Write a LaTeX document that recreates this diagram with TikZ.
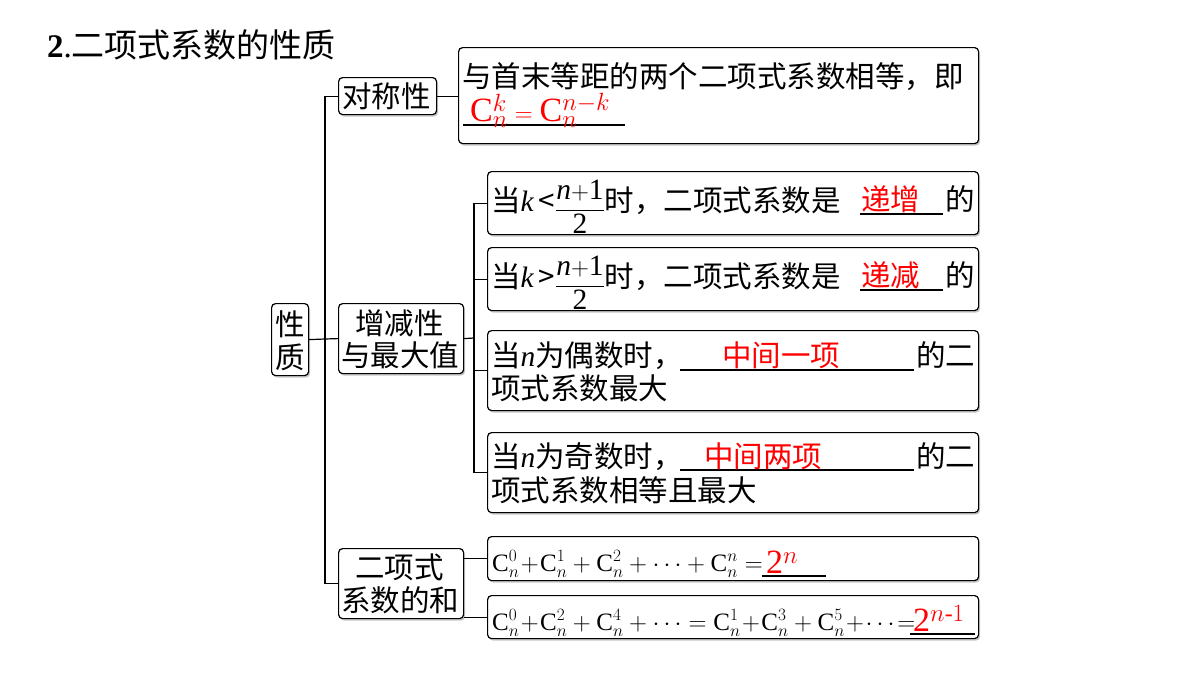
\documentclass[tikz,border=0pt]{standalone}
\usepackage{amsmath}
\usepackage{fontspec}
\setmainfont{Liberation Serif}
\newfontfamily\cjk{Noto Sans CJK SC}
\usetikzlibrary{shadows}
\tikzset{
 box/.style={draw, rounded corners=4pt, line width=1.2pt, fill=white, anchor=north west, inner sep=0,
   drop shadow={shadow xshift=1.5pt, shadow yshift=-2pt, opacity=0.45}},
 t/.style={font=\fontsize{29.5}{32}\selectfont\cjk, anchor=base west, inner sep=0},
 f/.style={font=\fontsize{25}{30}\selectfont, anchor=base west, inner sep=0},
 ln/.style={line width=1.2pt},
 ul/.style={line width=1.1pt},
}
\newcommand{\rc}{\color{red}}
\newcommand{\mi}[1]{{\rmfamily\itshape #1}}
\newcommand{\fr}{\raisebox{-0.35ex}{$\dfrac{\text{\rmfamily\itshape n}\mathord{+}\text{\rmfamily 1}}{\text{\rmfamily 2}}$}}
\begin{document}
\begin{tikzpicture}[x=1pt,y=-1pt]
\useasboundingbox (0,0) rectangle (1200,675);
% title
\node[anchor=base west, inner sep=0, font=\fontsize{33}{36}\selectfont] (title) at (47,57) {\textbf{2}.\cjk 二项式系数的性质};
% boxes
\node[box, minimum width=37pt, minimum height=72pt] (P) at (271,303) {};
\node[box, minimum width=98pt, minimum height=37pt] (S) at (338,77) {};
\node[box, minimum width=125pt, minimum height=70pt] (Z) at (338,303) {};
\node[box, minimum width=125pt, minimum height=70pt] (H) at (338,548) {};
\node[box, minimum width=520pt, minimum height=96pt] (A) at (458,47) {};
\node[box, minimum width=491pt, minimum height=63pt] (B1) at (487,171) {};
\node[box, minimum width=491pt, minimum height=63pt] (B2) at (487,247) {};
\node[box, minimum width=491pt, minimum height=80pt] (B3) at (487,330) {};
\node[box, minimum width=491pt, minimum height=80pt] (B4) at (487,432) {};
\node[box, minimum width=491pt, minimum height=44pt] (C1) at (487,536) {};
\node[box, minimum width=491pt, minimum height=43pt] (C2) at (487,595) {};
% connectors
\coordinate (T1) at (325,339);
\coordinate (T2) at (474,338);
\draw[ln] (P.east) -- (T1);
\draw[ln] (S.west) -| (T1) |- (H.west);
\draw[ln] (T1) -- (Z.west);
\draw[ln] (S.east) -- (A.west |- S.east);
\draw[ln] (Z.east) -- (T2);
\draw[ln] (B1.west) -| (T2) |- (B4.west);
\draw[ln] (T2) |- (B2.west);
\draw[ln] (T2) |- (B3.west);
\draw[ln] (H.east |- C1.west) -- (C1.west);
\draw[ln] (H.east |- C2.west) -- (C2.west);
% box labels
\node[t] (ps1) at (275,335) {性};
\node[t] (ps2) at (275,368) {质};
\node[t] (sl) at (342,107) {对称性};
\node[t] (zl1) at (355,334) {增减性};
\node[t] (zl2) at (341,366) {与最大值};
\node[t] (hl1) at (355,578) {二项式};
\node[t] (hl2) at (341,611) {系数的和};
% A
\node[t] (a1) at (462,87) {与首末等距的两个二项式系数相等，即};
\draw[ul] (463,125) -- (625,125);
\node[f, font=\fontsize{34}{36}\selectfont] (a2) at (470,121) {\rc$\mathrm{C}_n^k=\mathrm{C}_n^{n-k}$};
% B1,B2
\node[t] (b1) at (491,211) {当\mi{k}\,<\fr 时，二项式系数是};
\draw[ul] (860,214) -- (943,214);
\node[t] (b1r) at (861,210) {\rc 递增};
\node[t] (b1e) at (945,210) {的};
\node[t] (b2) at (491,287) {当\mi{k}\,>\fr 时，二项式系数是};
\draw[ul] (860,290) -- (943,290);
\node[t] (b2r) at (861,286) {\rc 递减};
\node[t] (b2e) at (945,286) {的};
% B3,B4
\node[t] (b3) at (491,366) {当\mi{n}为偶数时，};
\draw[ul] (680,370) -- (914,370);
\node[t] (b3r) at (722,366) {\rc 中间一项};
\node[t] (b3e) at (916,366) {的二};
\node[t] (b3b) at (491,399) {项式系数最大};
\node[t] (b4) at (491,467) {当\mi{n}为奇数时，};
\draw[ul] (680,470) -- (914,470);
\node[t] (b4r) at (704,467) {\rc 中间两项};
\node[t] (b4e) at (916,467) {的二};
\node[t] (b4b) at (491,501) {项式系数相等且最大};
% C
\node[f] (c1) at (492,571) {$\mathrm{C}_n^0\!+\!\mathrm{C}_n^1+\mathrm{C}_n^2+\cdots+\mathrm{C}_n^n=$};
\draw[ul] (762,576) -- (826,576);
\node[f, font=\fontsize{34}{36}\selectfont] (c1r) at (766,573) {\rc 2\textit{$^{n}$}};
\node[f] (c2) at (492,630) {$\mathrm{C}_n^0\!+\!\mathrm{C}_n^2+\mathrm{C}_n^4+\cdots=\mathrm{C}_n^1\!+\!\mathrm{C}_n^3+\mathrm{C}_n^5\!+\!\cdots\!=$};
\draw[ul] (910,634) -- (975,634);
\node[f, font=\fontsize{34}{36}\selectfont] (c2r) at (913,631) {\rc 2$^{n\text{-}1}$};
\end{tikzpicture}
\end{document}
